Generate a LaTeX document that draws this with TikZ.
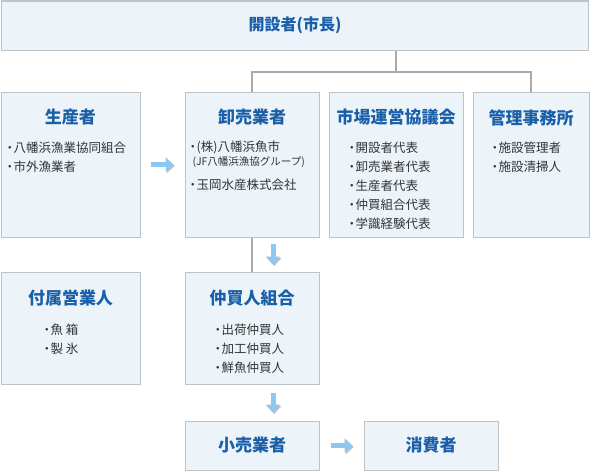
\documentclass[tikz,border=0pt]{standalone}
\usepackage{fontspec}
\setmainfont{Noto Sans CJK JP}
\usetikzlibrary{arrows.meta,calc,positioning}
\definecolor{boxbg}{RGB}{237,244,249}
\definecolor{boxborder}{RGB}{190,195,200}
\definecolor{ttlblue}{RGB}{26,95,170}
\definecolor{txtgray}{RGB}{51,51,51}
\definecolor{linegray}{RGB}{170,170,170}
\definecolor{arrowblue}{RGB}{140,200,240}
\newcommand{\itm}{・\kern-2.5pt}

\begin{document}
\begin{tikzpicture}[x=1pt, y=-1pt,
    box/.style={draw=boxborder, fill=boxbg, line width=1pt, inner sep=0pt},
    ttl/.style={text=ttlblue, font=\fontsize{17}{19}\selectfont\bfseries, inner sep=0pt},
    lst/.style={text=txtgray, font=\fontsize{12.5}{19}\selectfont, align=left, inner sep=0pt, anchor=north west},
    conn/.style={draw=linegray, line width=2pt},
    barrow/.style={draw=arrowblue, line width=5pt, -{Triangle[length=8pt, width=14pt]},
        preaction={draw=black!25, transform canvas={shift={(1.2pt,-1.5pt)}}}}
]

% Canvas
\useasboundingbox (0,0) rectangle (590,471);

% Top box
\node[box, minimum width=587pt, minimum height=49pt] (kaisetsu) at (295,25.5) {};
\node[ttl, font=\fontsize{16}{18}\selectfont\bfseries] (kaisetsuT) at (kaisetsu) {開設者(市長)};

% Row 1
\node[box, minimum width=139pt, minimum height=145pt] (seisan) at (70.5,164.5) {};
\node[box, minimum width=134pt, minimum height=145pt] (oroshi) at (252,164.5) {};
\node[box, minimum width=134pt, minimum height=145pt] (kyogi) at (396,164.5) {};
\node[box, minimum width=116pt, minimum height=145pt] (kanri) at (531,164.5) {};

\node[ttl] (seisanT) at ([yshift=-26pt]seisan.north) {生産者};
\node[ttl] (oroshiT) at ([yshift=-26pt]oroshi.north) {卸売業者};
\node[ttl] (kyogiT) at ([yshift=-26pt]kyogi.north) {市場運営協議会};
\node[ttl] (kanriT) at ([yshift=-26pt]kanri.north) {管理事務所};

\node[lst] (seisanL) at ([xshift=3pt, yshift=-50pt]seisan.north west) {\itm 八幡浜漁業協同組合\\\itm 市外漁業者};
\node[lst] (oroshiL) at ([xshift=2pt, yshift=-49pt]oroshi.north west) {\itm (株)八幡浜魚市};
\node[lst, font=\fontsize{10.5}{12}\selectfont] (oroshiS) at ([xshift=8pt, yshift=-65pt]oroshi.north west) {(JF八幡浜漁協グループ)};
\node[lst] (oroshiL2) at ([xshift=2pt, yshift=-87pt]oroshi.north west) {\itm 玉岡水産株式会社};
\node[lst] (kyogiL) at ([xshift=17pt, yshift=-50pt]kyogi.north west) {\itm 開設者代表\\\itm 卸売業者代表\\\itm 生産者代表\\\itm 仲買組合代表\\\itm 学識経験代表};
\node[lst] (kanriL) at ([xshift=16pt, yshift=-50pt]kanri.north west) {\itm 施設管理者\\\itm 施設清掃人};

% Row 2
\node[box, minimum width=139pt, minimum height=112pt] (fuzoku) at (70.5,328) {};
\node[box, minimum width=134pt, minimum height=112pt] (nakagai) at (252,328) {};

\node[ttl] (fuzokuT) at ([yshift=-27pt]fuzoku.north) {付属営業人};
\node[ttl] (nakagaiT) at ([yshift=-27pt]nakagai.north) {仲買人組合};

\node[lst] (fuzokuL) at ([xshift=40pt, yshift=-52pt]fuzoku.north west) {\itm 魚 箱\\\itm 製 氷};
\node[lst] (nakagaiL) at ([xshift=27pt, yshift=-52pt]nakagai.north west) {\itm 出荷仲買人\\\itm 加工仲買人\\\itm 鮮魚仲買人};

% Row 3
\node[box, minimum width=134pt, minimum height=49pt] (kouri) at (252,445.5) {};
\node[box, minimum width=134pt, minimum height=49pt] (shouhi) at (431,445.5) {};
\node[ttl] (kouriT) at (kouri) {小売業者};
\node[ttl] (shouhiT) at (shouhi) {消費者};

% Connectors
\coordinate (bus) at (396,72);
\draw[conn] (kaisetsu.south -| bus) -- (bus);
\draw[conn] (oroshi.north) |- (bus) -| (kanri.north);
\draw[conn] (oroshi.south) -- (nakagai.north);

% Arrows
\draw[barrow, shorten <=10pt, shorten >=11pt] (seisan.east) -- (oroshi.west);
\draw[barrow, shorten <=6pt, shorten >=7pt] ([xshift=21pt]oroshi.south) -- ([xshift=21pt]nakagai.north);
\draw[barrow, shorten <=8pt, shorten >=8pt] ([xshift=21pt]nakagai.south) -- ([xshift=21pt]kouri.north);
\draw[barrow, shorten <=11pt, shorten >=11pt] (kouri.east) -- (shouhi.west);

\end{tikzpicture}
\end{document}
